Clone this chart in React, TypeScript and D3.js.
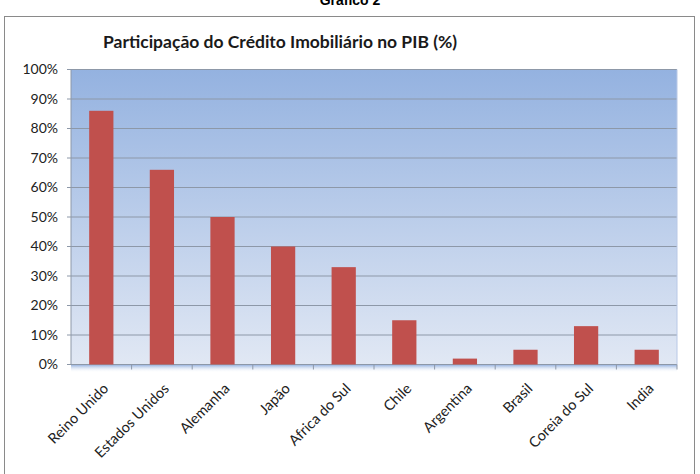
import { scaleBand, scaleLinear } from "d3";

const countries = [
  "Reino Unido",
  "Estados Unidos",
  "Alemanha",
  "Japão",
  "Africa do Sul",
  "Chile",
  "Argentina",
  "Brasil",
  "Coreia do Sul",
  "India",
];
const shares = [86, 66, 50, 40, 33, 15, 2, 5, 13, 5];
const yTicks = [0, 10, 20, 30, 40, 50, 60, 70, 80, 90, 100];

const width = 700;
const height = 474;
const plot = { left: 71, right: 677, top: 69.5, bottom: 364.5 };

export default function App() {
  const x = scaleBand<string>()
    .domain(countries)
    .range([plot.left, plot.right])
    .paddingInner(0.6)
    .paddingOuter(0.3);
  const band = scaleBand<string>().domain(countries).range([plot.left, plot.right]);
  const y = scaleLinear().domain([0, 100]).range([plot.bottom, plot.top]);

  const font = "Lato, 'Open Sans', sans-serif";

  return (
    <svg
      width={width}
      height={height}
      style={{ position: "absolute", left: 0, top: 0 }}
    >
      <defs>
        <linearGradient id="bg" x1="0" y1="0" x2="0" y2="1">
          <stop offset="0" stopColor="#94b2e0" />
          <stop offset="1" stopColor="#e1e8f4" />
        </linearGradient>
        <linearGradient id="floor" x1="0" y1="0" x2="0" y2="1">
          <stop offset="0" stopColor="#8eacdc" />
          <stop offset="1" stopColor="#ffffff" stopOpacity="0" />
        </linearGradient>
      </defs>
      <rect width={width} height={height} fill="#fff" />
      <text
        x={350}
        y={5}
        textAnchor="middle"
        fontFamily="Arial, 'Liberation Sans', sans-serif"
        fontWeight="bold"
        fontSize={14}
      >
        Gráfico 2
      </text>
      <rect
        x={4.5}
        y={16.5}
        width={690}
        height={470}
        fill="#fff"
        stroke="#8a8a8a"
      />
      <text
        x={103}
        y={48}
        fontFamily={font}
        fontWeight="bold"
        fontSize={17.5}
        fill="#1a1a1a"
      >
        Participação do Crédito Imobiliário  no PIB (%)
      </text>

      {/* floor shadow */}
      <rect
        x={plot.left}
        y={plot.bottom}
        width={plot.right - plot.left}
        height={8}
        fill="url(#floor)"
      />
      <rect
        x={plot.left}
        y={plot.top}
        width={plot.right - plot.left}
        height={plot.bottom - plot.top}
        fill="url(#bg)"
      />

      {yTicks.map((t) => (
        <g key={t}>
          <line
            x1={plot.left - 4}
            x2={plot.right}
            y1={y(t)}
            y2={y(t)}
            stroke="#8d98a8"
            strokeWidth={1}
          />
          <text
            x={plot.left - 13}
            y={y(t)}
            dy="0.35em"
            textAnchor="end"
            fontFamily={font}
            fontSize={14}
            fill="#222"
          >
            {t}%
          </text>
        </g>
      ))}
      <line
        x1={plot.left}
        x2={plot.left}
        y1={plot.top}
        y2={plot.bottom}
        stroke="#8d98a8"
      />
      <line
        x1={plot.right}
        x2={plot.right}
        y1={plot.top}
        y2={plot.bottom}
        stroke="#b8c8e6"
      />

      {countries.map((c, i) => (
        <rect
          key={c}
          x={x(c)}
          y={y(shares[i])}
          width={x.bandwidth()}
          height={y(0) - y(shares[i])}
          fill="#c0504d"
        />
      ))}

      {countries.map((c) => (
        <line
          key={"t" + c}
          x1={(band(c) ?? 0) + band.bandwidth()}
          x2={(band(c) ?? 0) + band.bandwidth()}
          y1={plot.bottom}
          y2={plot.bottom + 5}
          stroke="#8d98a8"
        />
      ))}

      {countries.map((c) => {
        const cx = (band(c) ?? 0) + band.bandwidth() / 2;
        return (
          <text
            key={"l" + c}
            transform={`translate(${cx + 8},${plot.bottom + 25}) rotate(-45)`}
            textAnchor="end"
            fontFamily={font}
            fontSize={14.5}
            fill="#222"
          >
            {c}
          </text>
        );
      })}
    </svg>
  );
}
